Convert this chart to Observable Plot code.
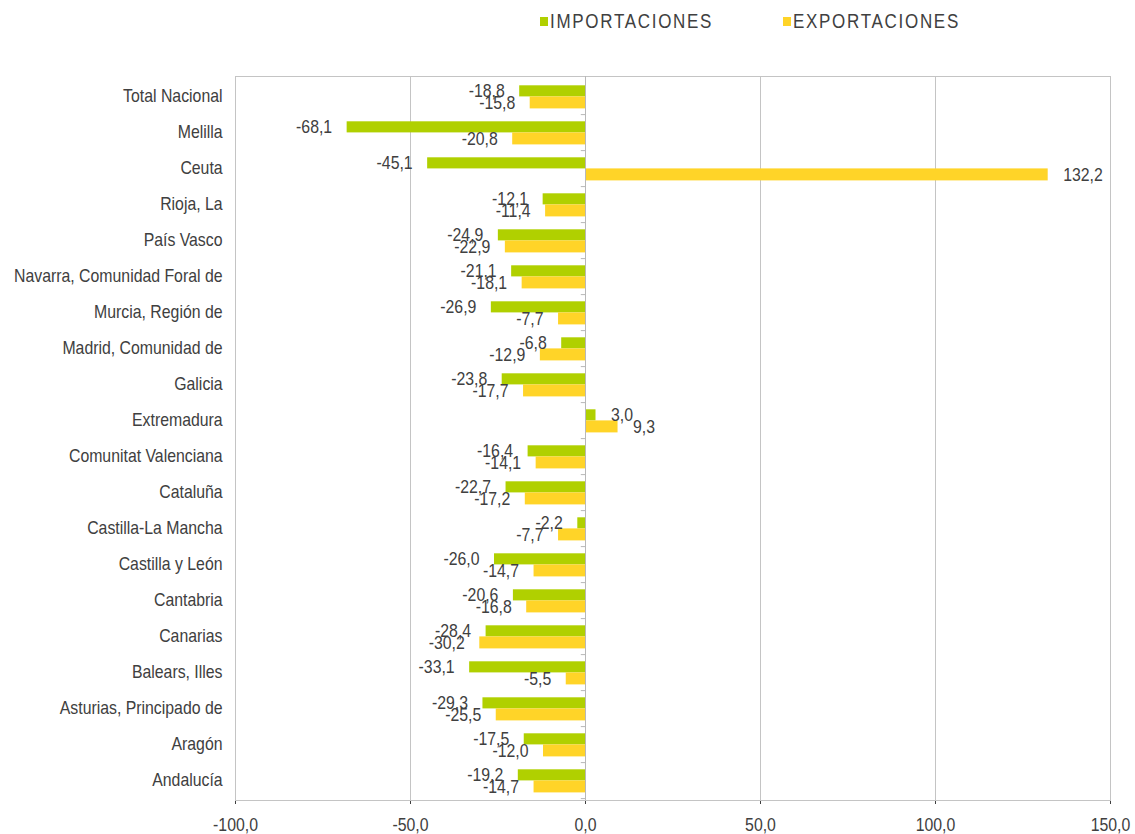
<!DOCTYPE html>
<html>
<head>
<meta charset="utf-8">
<script src="https://cdn.jsdelivr.net/npm/d3@7"></script>
<script src="https://cdn.jsdelivr.net/npm/@observablehq/plot@0.6"></script>
<style>
  html, body { margin: 0; padding: 0; background: #fff; }
  body { width: 1135px; height: 834px; overflow: hidden; font-family: "Liberation Sans", Arial, sans-serif; }
  #legend { position: relative; height: 45px; width: 1135px; color: #404040; font-size: 20px; }
  .item { position: absolute; top: 10px; display: flex; align-items: center; }
  .sw { width: 8px; height: 9px; margin-right: 2px; }
  .lt { display: inline-block; letter-spacing: 2px; transform: scaleX(0.85); transform-origin: left center; }
</style>
</head>
<body>
<div id="legend"></div>
<div id="chart"></div>
<script>
const regions = ["Total Nacional","Melilla","Ceuta","Rioja, La","País Vasco","Navarra, Comunidad Foral de","Murcia, Región de","Madrid, Comunidad de","Galicia","Extremadura","Comunitat Valenciana","Cataluña","Castilla-La Mancha","Castilla y León","Cantabria","Canarias","Balears, Illes","Asturias, Principado de","Aragón","Andalucía"];
const importaciones = [-18.8,-68.1,-45.1,-12.1,-24.9,-21.1,-26.9,-6.8,-23.8,3.0,-16.4,-22.7,-2.2,-26.0,-20.6,-28.4,-33.1,-29.3,-17.5,-19.2];
const exportaciones = [-15.8,-20.8,132.2,-11.4,-22.9,-18.1,-7.7,-12.9,-17.7,9.3,-14.1,-17.2,-7.7,-14.7,-16.8,-30.2,-5.5,-25.5,-12.0,-14.7];
const xTicks = [-100,-50,0,50,100,150];
const seriesNames = ["IMPORTACIONES","EXPORTACIONES"];
const colors = ["#b0d000","#ffd428"];

const imp = regions.map((r,i)=>({region:r, value:importaciones[i]}));
const exp = regions.map((r,i)=>({region:r, value:exportaciones[i]}));
const fmt = v => v.toFixed(1).replace(".", ",");

// legend
const legend = document.getElementById("legend");
[[540, 0],[783, 1]].forEach(([left, k]) => {
  const d = document.createElement("div");
  d.className = "item";
  d.style.left = left + "px";
  d.innerHTML = `<span class="sw" style="background:${colors[k]}"></span><span class="lt">${seriesNames[k]}</span>`;
  legend.appendChild(d);
});

const textColor = "#404040";
const labelFont = 18;
const band = 724 / 20;

const chart = Plot.plot({
  width: 1135,
  height: 789,
  marginTop: 31,
  marginBottom: 34,
  marginLeft: 235,
  marginRight: 25,
  style: {fontFamily: '"Liberation Sans", Arial, sans-serif', fontSize: labelFont + "px", color: textColor, background: "#fff", overflow: "visible"},
  x: {domain: [-100, 150], ticks: xTicks, tickFormat: fmt, tickSize: 4, tickPadding: 14, label: null},
  y: {domain: regions, padding: 0, tickSize: 0, tickPadding: 13, label: null},
  marks: [
    Plot.ruleX([-50, 50, 100], {stroke: "#c4c4c4", strokeWidth: 1}),
    Plot.frame({stroke: "#c4c4c4"}),
    Plot.barX(imp, {x: "value", y: "region", fill: colors[0], insetTop: 7.3, insetBottom: 17.6}),
    Plot.barX(exp, {x: "value", y: "region", fill: colors[1], insetTop: 18.4, insetBottom: 5.6}),
    Plot.ruleX([0], {stroke: "#b8b8b8", strokeWidth: 1}),
    Plot.ruleY(regions, {y: d => d, x1: -1.2, x2: 0, dy: band / 2, stroke: "#b8b8b8"}),
    Plot.text(imp.filter(d => d.value < 0), {x: "value", y: "region", text: d => fmt(d.value), textAnchor: "end", dx: -15, dy: -5.5, fill: textColor}),
    Plot.text(imp.filter(d => d.value >= 0), {x: "value", y: "region", text: d => fmt(d.value), textAnchor: "start", dx: 15, dy: -5.5, fill: textColor}),
    Plot.text(exp.filter(d => d.value < 0), {x: "value", y: "region", text: d => fmt(d.value), textAnchor: "end", dx: -15, dy: 6.3, fill: textColor}),
    Plot.text(exp.filter(d => d.value >= 0), {x: "value", y: "region", text: d => fmt(d.value), textAnchor: "start", dx: 15, dy: 6.3, fill: textColor})
  ]
});
document.getElementById("chart").appendChild(chart);

// condense all chart text horizontally (narrow look of the original), scaling about each text's anchor
const sx = 0.88;
chart.querySelectorAll("text").forEach(t => {
  const bb = t.getBBox();
  const anchor = getComputedStyle(t).textAnchor;
  const ax = anchor === "end" ? bb.x + bb.width : anchor === "middle" ? bb.x + bb.width / 2 : bb.x;
  const prev = t.getAttribute("transform") || "";
  t.setAttribute("transform", `${prev} translate(${ax},0) scale(${sx},1) translate(${-ax},0)`.trim());
});
</script>
</body>
</html>
